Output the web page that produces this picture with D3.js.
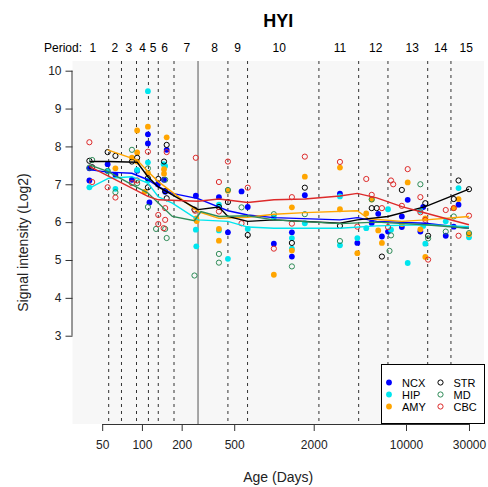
<!DOCTYPE html>
<html><head><meta charset="utf-8">
<script src="https://cdn.jsdelivr.net/npm/d3@7"></script>
<style>body{margin:0;background:#fff;} text{font-family:"Liberation Sans",Arial,sans-serif;}</style>
</head><body><svg id="c" width="488" height="487"></svg>
<script>
// ---- data ----
const title = "HYI";
const xTicks = [50, 100, 200, 500, 2000, 10000, 30000];
const yTicks = [3, 4, 5, 6, 7, 8, 9, 10];
const periodBounds = [56, 70, 91, 112, 133, 175, 266, 448, 631, 2190, 4380, 7300, 14600, 21900];
const birthDay = 266;
const periodLabels = ["1","2","3","4","5","6","7","8","9","10","11","12","13","14","15"];
const periodLabelAges = [42.5, 62.4, 79.6, 101, 121.5, 148.7, 219, 355, 530, 1095, 3158, 5890, 11160, 18300, 28600];
const regions = ["NCX","HIP","AMY","STR","MD","CBC"];
const regionColors = ["#0000ff","#00e5ee","#ffa500","#000000","#2e8b57","#dd2a2a"];
const regionFilled = [true, true, true, false, false, false];

const NCX = [[40,7.42],[40,7.1],[55,7.53],[63,7.25],[84,7.12],[92,7.36],[111,8.32],[111,8.08],[114,6.52],[132,7.0],[154,7.91],[147,7.12],[150,6.8],[256,6.70],[383,6.66],[448,5.73],[568,6.81],[633,6.4],[998,5.43],[1367,5.73],[1367,5.09],[1713,6.71],[3160,6.75],[4280,5.45],[5500,5.98],[6160,6.22],[6570,5.62],[7310,5.75],[9300,6.15],[9300,5.87],[10300,6.59],[12850,5.75],[13500,6.4],[20000,5.64],[23000,5.88],[25000,6.46]];
const HIP = [[40,6.92],[55,7.35],[63,6.88],[92,7.38],[111,9.46],[111,7.58],[111,7.1],[146,7.53],[150,7.48],[256,5.8],[258,5.36],[383,6.46],[383,5.78],[448,5.03],[633,5.82],[998,6.13],[1367,5.58],[1367,5.3],[1713,5.97],[3160,6.68],[3160,5.39],[4280,5.58],[5000,5.84],[7310,6.34],[7700,5.8],[10300,4.92],[12850,6.3],[14000,5.43],[13500,5.9],[20000,6.02],[25000,6.9],[30000,5.6]];
const AMY = [[63,7.42],[84,7.7],[92,8.42],[92,7.84],[92,7.6],[111,8.52],[111,7.3],[105,6.8],[154,8.24],[147,7.4],[147,7.28],[258,6.1],[260,6.03],[383,5.82],[383,5.51],[448,6.83],[998,4.61],[1367,6.39],[1367,5.25],[1713,7.2],[3160,7.44],[3160,6.34],[4280,5.18],[5000,6.23],[5500,6.6],[6160,5.78],[6570,5.45],[10300,7.05],[9300,5.95],[12850,5.81],[14000,5.08],[14000,6.1],[23000,6.37],[25000,6.61],[30000,5.68]];
const STR = [[40,7.62],[42,7.45],[55,7.85],[63,7.75],[84,7.6],[92,7.7],[111,7.16],[111,6.92],[133,7.14],[154,8.04],[147,7.6],[150,6.82],[154,6.63],[250,6.33],[383,6.4],[448,6.53],[633,5.66],[1367,5.45],[1713,6.91],[3160,5.9],[5500,6.37],[6000,6.37],[6570,5.09],[9300,6.85],[14000,6.5],[14700,5.64],[23000,6.61],[25000,7.1],[30000,6.87]];
const MD = [[42,7.64],[40,7.44],[63,6.79],[55,7.35],[84,7.91],[92,7.03],[111,7.42],[111,6.4],[150,7.12],[150,5.82],[154,5.58],[128,5.82],[250,4.59],[383,5.16],[383,4.93],[448,6.85],[568,6.39],[998,6.21],[1367,4.83],[1713,6.21],[3160,5.5],[5500,6.6],[7700,5.65],[7500,5.24],[12850,7.0],[14700,5.57],[20000,5.75],[23000,6.15],[30000,5.71]];
const CBC = [[40,8.11],[42,7.06],[55,6.92],[63,6.65],[84,7.03],[92,7.1],[111,7.86],[133,6.19],[133,5.95],[146,5.84],[150,6.06],[154,7.85],[150,6.37],[256,7.70],[253,6.3],[383,7.06],[383,6.28],[448,7.6],[568,5.97],[633,6.91],[998,5.3],[1367,6.66],[1367,5.96],[1713,7.73],[3160,7.59],[4280,5.88],[5000,7.14],[5500,6.72],[6570,6.37],[7310,5.87],[7700,7.1],[8000,7.0],[9300,6.43],[10300,7.4],[12850,6.66],[14000,6.06],[12850,6.26],[14700,5.01],[20000,6.32],[25000,5.64],[30000,6.17],[23000,6.37]];

const NCXfit = [[41,7.38],[55,7.32],[84,7.29],[111,7.12],[133,6.94],[170,6.76],[266,6.62],[448,6.3],[633,6.19],[1000,6.12],[3160,6.06],[4280,6.12],[6000,6.02],[14000,5.97],[30000,5.84]];
const HIPfit = [[40,6.9],[56,7.16],[84,7.2],[111,7.03],[133,6.67],[170,6.5],[266,6.06],[448,6.02],[633,5.87],[1000,5.84],[3160,5.84],[6000,5.9],[14000,5.93],[30000,5.88]];
const AMYfit = [[55,7.91],[92,7.64],[111,7.34],[133,7.07],[266,6.28],[383,6.1],[633,6.13],[1000,6.21],[1713,6.25],[4280,6.3],[5200,6.09],[9300,6.02],[14000,6.06],[30000,6.15]];
const STRfit = [[40,7.6],[55,7.6],[92,7.58],[111,7.2],[133,6.93],[160,6.77],[266,6.33],[383,6.4],[448,6.15],[633,6.02],[1000,6.06],[3160,5.97],[4280,6.06],[7300,6.15],[14000,6.41],[30000,6.87]];
const MDfit = [[40,7.51],[55,7.34],[84,6.99],[111,6.77],[170,6.15],[250,6.04],[280,6.28],[383,6.15],[633,6.17],[1000,6.06],[3160,5.96],[6000,6.0],[14000,5.93],[30000,5.84]];
const CBCfit = [[40,7.47],[111,6.68],[133,6.59],[266,6.55],[383,6.61],[633,6.52],[1000,6.59],[1713,6.61],[3160,6.69],[4280,6.76],[6000,6.64],[9300,6.41],[14000,6.24],[30000,5.93]];

const pointSets = [NCX, HIP, AMY, STR, MD, CBC];
const fitSets = [NCXfit, HIPfit, AMYfit, STRfit, MDfit, CBCfit];

// ---- layout ----
const L = 72.5, R = 484, T = 61, B = 424;
const svg = d3.select("#c");
const x = d3.scaleLog().domain([29.8, 38970]).range([L, R]);
const y = d3.scaleLinear().domain([0.668, 10.256]).range([B, T]);

svg.append("rect").attr("x", L).attr("y", T).attr("width", R - L).attr("height", B - T).attr("fill", "#f7f7f7");

// period boundaries
svg.append("g").selectAll("line").data(periodBounds).join("line")
  .attr("x1", d => x(d)).attr("x2", d => x(d)).attr("y1", T).attr("y2", B)
  .attr("stroke", d => d === birthDay ? "#555" : "#333")
  .attr("stroke-width", 1)
  .attr("stroke-dasharray", d => d === birthDay ? null : "3,4");

// period labels
svg.append("text").attr("x", 82).attr("y", 52).attr("text-anchor", "end").attr("font-size", 12).text("Period:");
svg.append("g").selectAll("text").data(periodLabels).join("text")
  .attr("x", (d, i) => x(periodLabelAges[i])).attr("y", 52).attr("text-anchor", "middle")
  .attr("font-size", 12).text(d => d);

// points
regions.forEach((r, i) => {
  svg.append("g").selectAll("circle").data(pointSets[i]).join("circle")
    .attr("cx", d => x(d[0])).attr("cy", d => y(d[1])).attr("r", regionFilled[i] ? 2.9 : 2.6)
    .attr("fill", regionFilled[i] ? regionColors[i] : "none")
    .attr("stroke", regionFilled[i] ? "none" : regionColors[i]).attr("stroke-width", 1);
});

// fit lines
const line = d3.line().x(d => x(d[0])).y(d => y(d[1]));
regions.forEach((r, i) => {
  svg.append("path").datum(fitSets[i]).attr("d", line).attr("fill", "none")
    .attr("stroke", regionColors[i]).attr("stroke-width", 1.4);
});

// axes
const xa = svg.append("g").attr("transform", `translate(0,${B})`)
  .call(d3.axisBottom(x).tickValues(xTicks).tickFormat(d3.format("d")).tickSize(7).tickPadding(9).tickSizeOuter(0));
xa.select(".domain").remove();
xa.selectAll("text").attr("font-size", 12).attr("font-family", "Liberation Sans, Arial, sans-serif").attr("fill", "#222");
xa.selectAll(".tick line").attr("stroke", "#333");
svg.append("line").attr("x1", x(xTicks[0])).attr("x2", x(xTicks[xTicks.length - 1])).attr("y1", B + 0.5).attr("y2", B + 0.5).attr("stroke", "#333");

const ya = svg.append("g").attr("transform", `translate(${L},0)`)
  .call(d3.axisLeft(y).tickValues(yTicks).tickSize(7).tickPadding(4).tickSizeOuter(0));
ya.select(".domain").remove();
ya.selectAll("text").attr("font-size", 12).attr("font-family", "Liberation Sans, Arial, sans-serif").attr("fill", "#222");
ya.selectAll(".tick line").attr("stroke", "#333");
svg.append("line").attr("x1", L - 0.5).attr("x2", L - 0.5).attr("y1", y(yTicks[0])).attr("y2", y(yTicks[yTicks.length - 1])).attr("stroke", "#333");

// titles
svg.append("text").attr("x", (L + R) / 2).attr("y", 27).attr("text-anchor", "middle")
  .attr("font-size", 18).attr("font-weight", "bold").text(title);
svg.append("text").attr("x", (L + R) / 2).attr("y", 482).attr("text-anchor", "middle")
  .attr("font-size", 14).attr("fill", "#222").text("Age (Days)");
svg.append("text").attr("transform", `translate(28,${(T + B) / 2}) rotate(-90)`).attr("text-anchor", "middle")
  .attr("font-size", 14).attr("fill", "#222").text("Signal intensity (Log2)");

// legend
const lg = svg.append("g");
lg.append("rect").attr("x", 381.5).attr("y", 364.5).attr("width", 103).attr("height", 59)
  .attr("fill", "#fff").attr("stroke", "#000").attr("stroke-width", 1);
regions.forEach((r, i) => {
  const col = Math.floor(i / 3), row = i % 3;
  const sx = col === 0 ? 389 : 440.5, ty = 382.5 + row * 12;
  lg.append("circle").attr("cx", sx).attr("cy", ty).attr("r", regionFilled[i] ? 2.9 : 2.6)
    .attr("fill", regionFilled[i] ? regionColors[i] : "none")
    .attr("stroke", regionFilled[i] ? "none" : regionColors[i]);
  lg.append("text").attr("x", sx + 13).attr("y", ty + 4).attr("font-size", 11).text(r);
});
</script></body></html>
